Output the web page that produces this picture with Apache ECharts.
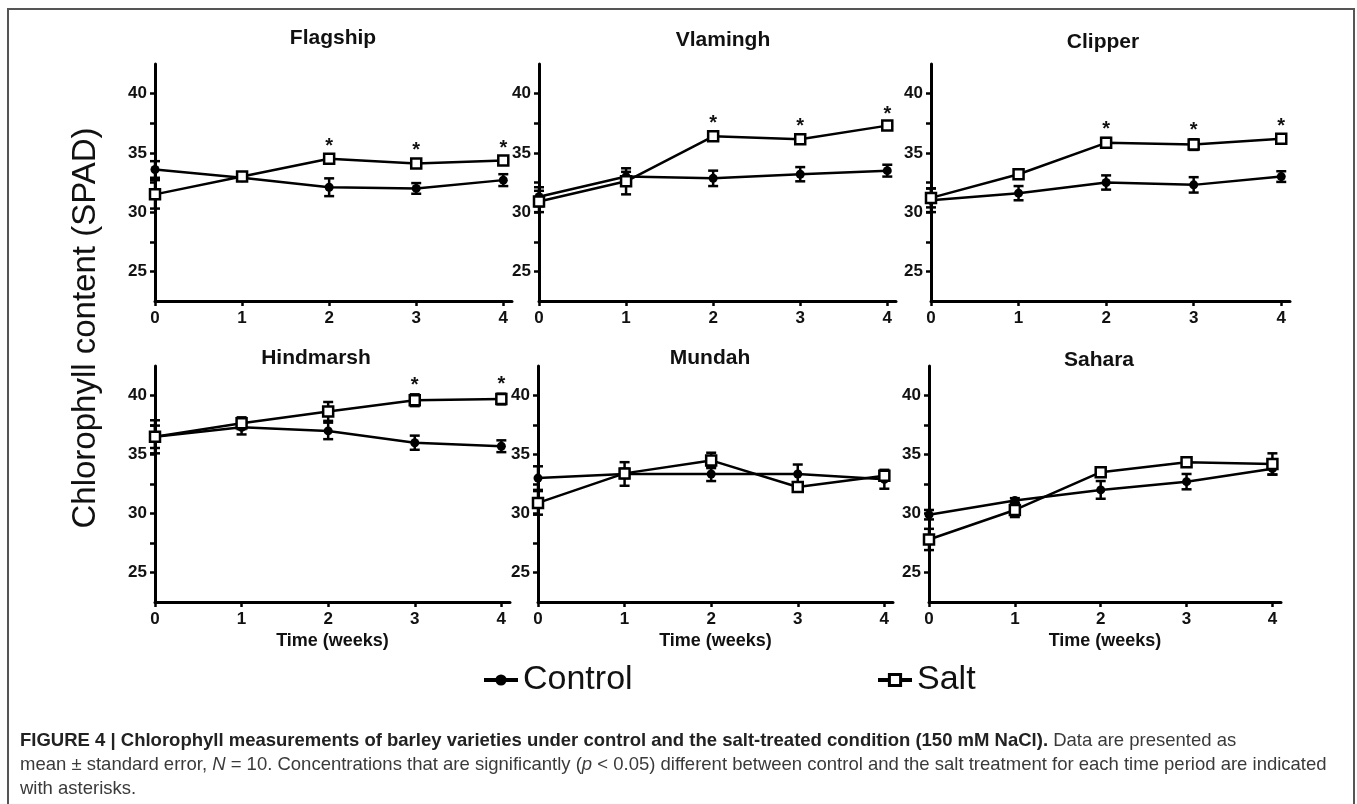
<!DOCTYPE html>
<html>
<head>
<meta charset="utf-8">
<script src="https://cdn.jsdelivr.net/npm/echarts@6/dist/echarts.min.js"></script>
<style>html,body{margin:0;padding:0;background:#fff;}#c{width:1357px;height:804px;}</style>
</head>
<body>
<div id="c"></div>
<script>
// ---- data ----
var weeks = [0, 1, 2, 3, 4];
var panelNames = ['Flagship', 'Vlamingh', 'Clipper', 'Hindmarsh', 'Mundah', 'Sahara'];
var yTickLabels = [25, 30, 35, 40];
var yTicks = [25, 27.5, 30, 32.5, 35, 37.5, 40];

var controlFlagship = [33.6, 32.9, 32.1, 32.0, 32.7];
var controlFlagshipErr = [0.7, 0.25, 0.75, 0.45, 0.5];
var saltFlagship = [31.5, 33.0, 34.5, 34.1, 34.35];
var saltFlagshipErr = [1.2, 0.3, 0.3, 0.35, 0.3];
var sigFlagship = [0, 0, 1, 1, 1];

var controlVlamingh = [31.3, 33.0, 32.85, 33.2, 33.5];
var controlVlaminghErr = [0.8, 0.4, 0.65, 0.6, 0.5];
var saltVlamingh = [30.9, 32.6, 36.4, 36.15, 37.3];
var saltVlaminghErr = [0.9, 1.1, 0.35, 0.3, 0.15];
var sigVlamingh = [0, 0, 1, 1, 1];

var controlClipper = [31.0, 31.6, 32.5, 32.3, 33.0];
var controlClipperErr = [1.0, 0.6, 0.6, 0.65, 0.45];
var saltClipper = [31.2, 33.2, 35.85, 35.7, 36.2];
var saltClipperErr = [0.8, 0.3, 0.4, 0.45, 0.25];
var sigClipper = [0, 0, 1, 1, 1];

var controlHindmarsh = [36.5, 37.3, 37.0, 36.0, 35.7];
var controlHindmarshErr = [1.4, 0.6, 0.7, 0.6, 0.5];
var saltHindmarsh = [36.5, 37.65, 38.65, 39.6, 39.7];
var saltHindmarshErr = [0.95, 0.5, 0.8, 0.5, 0.45];
var sigHindmarsh = [0, 0, 0, 1, 1];

var controlMundah = [33.0, 33.35, 33.35, 33.35, 32.9];
var controlMundahErr = [1.0, 1.0, 0.6, 0.8, 0.8];
var saltMundah = [30.9, 33.4, 34.5, 32.25, 33.2];
var saltMundahErr = [1.0, 0.4, 0.65, 0.35, 0.3];
var sigMundah = [0, 0, 0, 0, 0];

var controlSahara = [29.9, 31.1, 32.0, 32.7, 33.8];
var controlSaharaErr = [0.4, 0.2, 0.75, 0.65, 0.5];
var saltSahara = [27.8, 30.3, 33.5, 34.35, 34.2];
var saltSaharaErr = [0.9, 0.6, 0.2, 0.3, 0.9];
var sigSahara = [0, 0, 0, 0, 0];

var controlAll = [controlFlagship, controlVlamingh, controlClipper, controlHindmarsh, controlMundah, controlSahara];
var controlErrAll = [controlFlagshipErr, controlVlaminghErr, controlClipperErr, controlHindmarshErr, controlMundahErr, controlSaharaErr];
var saltAll = [saltFlagship, saltVlamingh, saltClipper, saltHindmarsh, saltMundah, saltSahara];
var saltErrAll = [saltFlagshipErr, saltVlaminghErr, saltClipperErr, saltHindmarshErr, saltMundahErr, saltSaharaErr];
var sigAll = [sigFlagship, sigVlamingh, sigClipper, sigHindmarsh, sigMundah, sigSahara];

// ---- layout ----
var FONT = '"Liberation Sans", Arial, Helvetica, sans-serif';
var grids = [
  {left: 155, top: 64, width: 357, height: 237},
  {left: 539, top: 64, width: 357, height: 237},
  {left: 931, top: 64, width: 359, height: 237},
  {left: 155, top: 366, width: 355, height: 236},
  {left: 538, top: 366, width: 355, height: 236},
  {left: 929, top: 366, width: 352, height: 236}
];
var titlePos = [[333, 38], [723, 40], [1103, 42], [316, 358], [710, 358], [1099, 360]];

var chart = echarts.init(document.getElementById('c'), null, {renderer: 'canvas'});

function errRender(params, api) {
  var x = api.value(0), y = api.value(1), e = api.value(2);
  var top = api.coord([x, y + e]);
  var bot = api.coord([x, y - e]);
  var hw = 5;
  var st = {stroke: '#000', lineWidth: 2.5};
  return {
    type: 'group',
    children: [
      {type: 'line', shape: {x1: top[0], y1: top[1], x2: bot[0], y2: bot[1]}, style: st},
      {type: 'line', shape: {x1: top[0] - hw, y1: top[1], x2: top[0] + hw, y2: top[1]}, style: st},
      {type: 'line', shape: {x1: bot[0] - hw, y1: bot[1], x2: bot[0] + hw, y2: bot[1]}, style: st}
    ]
  };
}
function starRender(params, api) {
  var p = api.coord([api.value(0), api.value(1)]);
  return {
    type: 'text',
    x: p[0], y: p[1] + 1,
    style: {text: '*', fill: '#111', font: 'bold 20px ' + FONT, textAlign: 'center', textVerticalAlign: 'bottom'}
  };
}

var xAxes = [], yAxes = [], series = [], graphics = [];
for (var i = 0; i < 6; i++) {
  xAxes.push({
    gridIndex: i, type: 'value', min: 0, max: 4.1,
    axisLine: {show: true, lineStyle: {color: '#000', width: 3}},
    axisTick: {show: true, length: 5, lineStyle: {color: '#000', width: 2.5}, customValues: weeks},
    axisLabel: {show: true, customValues: weeks, margin: 9, color: '#111', fontSize: 17, fontWeight: 'bold', fontFamily: FONT},
    splitLine: {show: false},
    name: i >= 3 ? 'Time (weeks)' : '',
    nameLocation: 'middle', nameGap: 30,
    nameTextStyle: {color: '#111', fontSize: 18, fontWeight: 'bold', fontFamily: FONT}
  });
  yAxes.push({
    gridIndex: i, type: 'value', min: 22.5, max: 42.5,
    axisLine: {show: true, lineStyle: {color: '#000', width: 3}},
    axisTick: {show: true, length: 5, lineStyle: {color: '#000', width: 2.5}, customValues: yTicks},
    axisLabel: {show: true, customValues: yTickLabels, margin: 8, color: '#111', fontSize: 17, fontWeight: 'bold', fontFamily: FONT},
    splitLine: {show: false}
  });
  var cData = weeks.map(function (w, k) { return [w, controlAll[i][k]]; });
  var sData = weeks.map(function (w, k) { return [w, saltAll[i][k]]; });
  var cErr = weeks.map(function (w, k) { return [w, controlAll[i][k], controlErrAll[i][k]]; });
  var sErr = weeks.map(function (w, k) { return [w, saltAll[i][k], saltErrAll[i][k]]; });
  var stars = [];
  weeks.forEach(function (w, k) { if (sigAll[i][k]) stars.push([w, saltAll[i][k] + saltErrAll[i][k]]); });

  series.push({type: 'custom', xAxisIndex: i, yAxisIndex: i, renderItem: errRender, data: cErr, z: 2, clip: false, silent: true});
  series.push({type: 'custom', xAxisIndex: i, yAxisIndex: i, renderItem: errRender, data: sErr, z: 2, clip: false, silent: true});
  series.push({
    name: 'Control', type: 'line', xAxisIndex: i, yAxisIndex: i, data: cData, z: 3, clip: false,
    symbol: 'circle', symbolSize: 9, showAllSymbol: true,
    itemStyle: {color: '#000'}, lineStyle: {color: '#000', width: 2.5}
  });
  series.push({
    name: 'Salt', type: 'line', xAxisIndex: i, yAxisIndex: i, data: sData, z: 4, clip: false,
    symbol: 'rect', symbolSize: 10, showAllSymbol: true,
    itemStyle: {color: '#fff', borderColor: '#000', borderWidth: 2.5}, lineStyle: {color: '#000', width: 2.5}
  });
  series.push({type: 'custom', xAxisIndex: i, yAxisIndex: i, renderItem: starRender, data: stars, z: 5, clip: false, silent: true});

  graphics.push({
    type: 'text', x: titlePos[i][0], y: titlePos[i][1],
    style: {text: panelNames[i], fill: '#111', font: 'bold 21px ' + FONT, textAlign: 'center', textVerticalAlign: 'middle'}
  });
}

// frame
graphics.push({type: 'rect', shape: {x: 8, y: 9, width: 1346, height: 820}, style: {fill: 'none', stroke: '#555', lineWidth: 2}, z: -1});
// y axis title
graphics.push({
  type: 'text', x: 86, y: 328, rotation: Math.PI / 2,
  style: {text: 'Chlorophyll content (SPAD)', fill: '#111', font: '33px ' + FONT, textAlign: 'center', textVerticalAlign: 'middle'}
});
// caption
var CAP = '18.5px ' + FONT;
graphics.push({
  type: 'text', x: 20, y: 741,
  style: {
    text: '{b|FIGURE 4 | Chlorophyll measurements of barley varieties under control and the salt-treated condition (150 mM NaCl).}{n| Data are presented as}',
    textVerticalAlign: 'middle',
    rich: {
      b: {font: 'bold ' + CAP, fill: '#222'},
      n: {font: CAP, fill: '#3a3a3a'}
    }
  }
});
graphics.push({
  type: 'text', x: 20, y: 765,
  style: {
    text: '{n|mean \u00b1 standard error, }{i|N}{n| = 10. Concentrations that are significantly (}{i|p}{n| < 0.05) different between control and the salt treatment for each time period are indicated}',
    textVerticalAlign: 'middle',
    rich: {
      n: {font: CAP, fill: '#3a3a3a'},
      i: {font: 'italic ' + CAP, fill: '#3a3a3a'}
    }
  }
});
graphics.push({
  type: 'text', x: 20, y: 789,
  style: {text: 'with asterisks.', font: CAP, fill: '#3a3a3a', textVerticalAlign: 'middle'}
});

var legendCommon = {
  orient: 'horizontal', itemWidth: 34, itemHeight: 14, itemGap: 0,
  textStyle: {fontSize: 34, color: '#111', fontFamily: FONT},
  lineStyle: {width: 4},
  selectedMode: false
};
chart.setOption({
  animation: false,
  backgroundColor: '#fff',
  grid: grids,
  xAxis: xAxes,
  yAxis: yAxes,
  legend: [
    Object.assign({}, legendCommon, {data: ['Control'], left: 477, top: 658}),
    Object.assign({}, legendCommon, {data: ['Salt'], left: 871, top: 658, itemStyle: {borderWidth: 3}})
  ],
  series: series,
  graphic: graphics
});
</script>
</body>
</html>
